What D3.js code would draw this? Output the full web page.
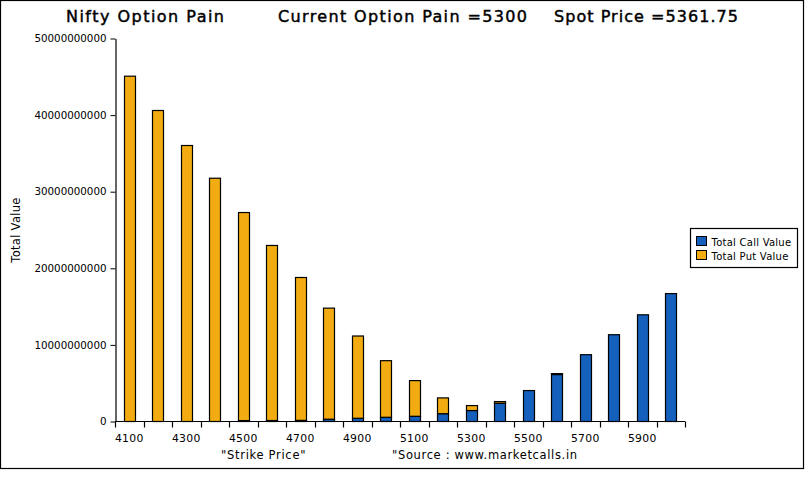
<!DOCTYPE html>
<html>
<head>
<meta charset="utf-8">
<script src="https://cdn.jsdelivr.net/npm/d3@7"></script>
<style>
  body { margin: 0; background: #fff; }
  text { font-family: "DejaVu Sans", sans-serif; }
</style>
</head>
<body>
<svg id="chart"></svg>
<script>
// strike prices on the x axis
const strikes = [4100, 4200, 4300, 4400, 4500, 4600, 4700, 4800, 4900, 5000,
                 5100, 5200, 5300, 5400, 5500, 5600, 5700, 5800, 5900, 6000];
// values, in billions
const callValues = [0, 0, 0, 0, 0.12, 0.13, 0.15, 0.3, 0.42, 0.55,
                    0.68, 1.02, 1.43, 2.38, 4.04, 6.13, 8.72, 11.33, 13.93, 16.7];
const putValues = [45.08, 40.6, 36.03, 31.76, 27.16, 22.85, 18.65, 14.5, 10.74, 7.39,
                   4.66, 2.06, 0.65, 0.22, 0, 0.12, 0, 0, 0, 0];
const yTicks = [0, 10000000000, 20000000000, 30000000000, 40000000000, 50000000000];
const seriesNames = ["Total Call Value", "Total Put Value"];
const colors = ["#1560bd", "#f2ac11"];

const width = 805;
const height = 486;

const data = strikes.map(function (s, i) {
    return { strike: s, call: callValues[i] * 1e9, put: putValues[i] * 1e9 };
});

const svg = d3.select("#chart").attr("width", width).attr("height", height);

svg.append("rect")
    .attr("x", 0.5).attr("y", 0.5)
    .attr("width", 803).attr("height", 468)
    .attr("fill", "white").attr("stroke", "black").attr("stroke-width", 1.2);

const x = d3.scaleBand().domain(strikes).range([115, 685]);
const y = d3.scaleLinear().domain([0, 50000000000]).range([421.5, 38.5]);

const stack = d3.stack().keys(["call", "put"]);
const layers = stack(data);

const barW = 11;

svg.append("g").attr("class", "bars")
    .selectAll("g")
    .data(layers)
    .enter()
    .append("g")
    .attr("fill", function (d, i) { return colors[i]; })
    .selectAll("rect")
    .data(function (d) { return d.filter(function (v) { return v[1] - v[0] > 0; }); })
    .enter()
    .append("rect")
    .attr("x", function (d) { return Math.round(x(d.data.strike) + x.bandwidth() / 2 - barW / 2) + 0.5; })
    .attr("width", barW)
    .attr("y", function (d) { return y(d[1]); })
    .attr("height", function (d) { return y(d[0]) - y(d[1]); })
    .attr("stroke", "black")
    .attr("stroke-width", 1.2);

// y axis
const yAxis = svg.append("g")
    .attr("transform", "translate(115.5,0)")
    .call(d3.axisLeft(y).tickValues(yTicks).tickSize(5).tickSizeOuter(0).tickFormat(d3.format("d")));
yAxis.selectAll("text").style("font-size", "10.3px").attr("fill", "black").attr("x", -9);
yAxis.select(".domain").attr("stroke-width", 1.2);

// x axis: ticks at category boundaries, labels on every other strike
const xAxis = svg.append("g").attr("transform", "translate(0,421.5)");
xAxis.append("line")
    .attr("x1", 115).attr("x2", 685)
    .attr("stroke", "black").attr("stroke-width", 1.2);
xAxis.selectAll("line.tick")
    .data(strikes.concat([null]))
    .enter()
    .append("line")
    .attr("class", "tick")
    .attr("x1", function (d, i) { return Math.round(115 + i * x.step()) + 0.5; })
    .attr("x2", function (d, i) { return Math.round(115 + i * x.step()) + 0.5; })
    .attr("y1", 0).attr("y2", 6)
    .attr("stroke", "black").attr("stroke-width", 1.2);
xAxis.selectAll("text")
    .data(strikes.filter(function (d, i) { return i % 2 === 0; }))
    .enter()
    .append("text")
    .attr("x", function (d) { return x(d) + x.bandwidth() / 2; })
    .attr("y", 20)
    .attr("text-anchor", "middle")
    .style("font-size", "10.8px")
    .style("letter-spacing", "0.3px")
    .text(function (d) { return d; });

// titles, stretched to the widths in the picture
const title = svg.append("g")
    .style("font-size", "16px")
    .attr("stroke", "black").attr("stroke-width", 0.45);
title.append("text").attr("x", 66).attr("y", 22)
    .attr("textLength", 158).attr("lengthAdjust", "spacing").text("Nifty Option Pain");
title.append("text").attr("x", 278).attr("y", 22)
    .attr("textLength", 249).attr("lengthAdjust", "spacing").text("Current Option Pain =5300");
title.append("text").attr("x", 554).attr("y", 22)
    .attr("textLength", 184).attr("lengthAdjust", "spacing").text("Spot Price =5361.75");

svg.append("text")
    .attr("transform", "translate(19.5,230) rotate(-90)")
    .attr("text-anchor", "middle")
    .style("font-size", "11.5px")
    .style("letter-spacing", "0.3px")
    .text("Total Value");

svg.append("text").attr("x", 221).attr("y", 459)
    .style("font-size", "11.5px").style("letter-spacing", "0.7px").text("\"Strike Price\"");
svg.append("text").attr("x", 392).attr("y", 459)
    .style("font-size", "11.5px").style("letter-spacing", "0.65px").text("\"Source : www.marketcalls.in");

// legend
const legend = svg.append("g");
legend.append("rect")
    .attr("x", 690.5).attr("y", 228.5)
    .attr("width", 107).attr("height", 39)
    .attr("fill", "white").attr("stroke", "black").attr("stroke-width", 1.2);
const item = legend.selectAll("g.item")
    .data(seriesNames)
    .enter()
    .append("g")
    .attr("class", "item")
    .attr("transform", function (d, i) { return "translate(696.5," + (236.5 + i * 14) + ")"; });
item.append("rect")
    .attr("width", 10).attr("height", 9)
    .attr("fill", function (d, i) { return colors[i]; })
    .attr("stroke", "black").attr("stroke-width", 1);
item.append("text")
    .attr("x", 15).attr("y", 9)
    .style("font-size", "10px")
    .style("letter-spacing", "0.25px")
    .text(function (d) { return d; });
</script>
</body>
</html>
